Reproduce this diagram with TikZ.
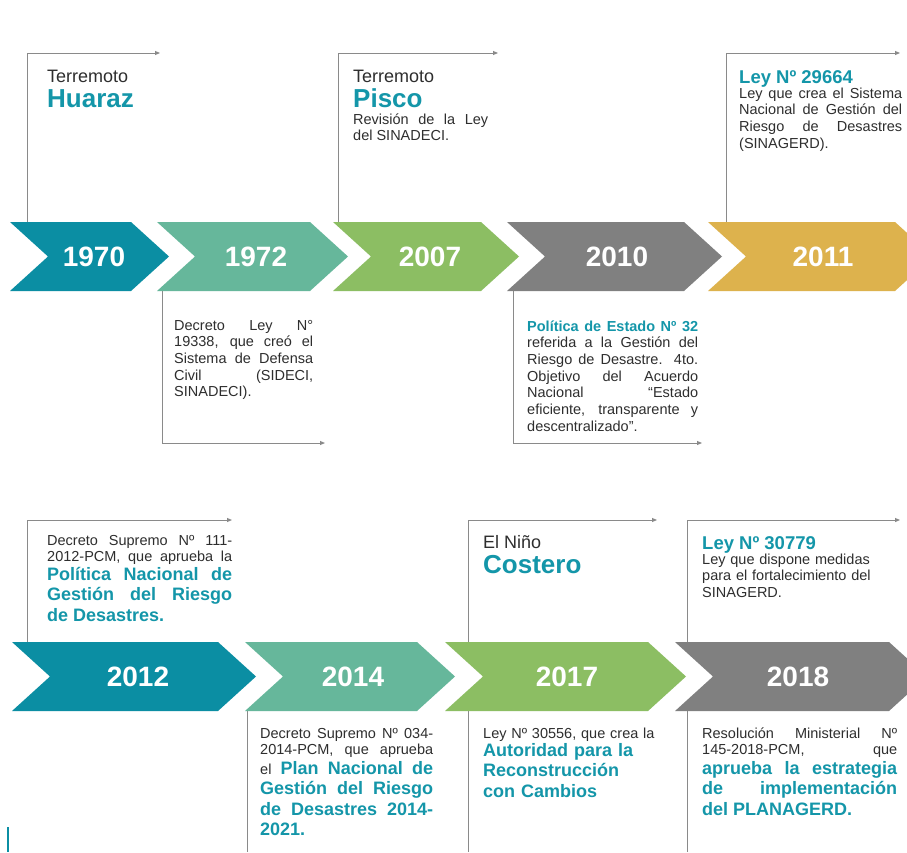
\documentclass[tikz,border=0pt]{standalone}
\usepackage{fontspec}
\setmainfont{Liberation Sans}
\usetikzlibrary{arrows.meta,positioning}
\definecolor{cTeal}{HTML}{0B8EA3}
\definecolor{cMint}{HTML}{66B79B}
\definecolor{cGreen}{HTML}{8CBE63}
\definecolor{cGray}{HTML}{808080}
\definecolor{cGold}{HTML}{DDB24D}
\definecolor{cLine}{HTML}{8A8A8A}
\definecolor{cText}{HTML}{2E2E2E}
\definecolor{cHigh}{HTML}{1496A9}

\begin{document}
\begin{tikzpicture}[x=1pt,y=-1pt]
\tikzset{bracket/.style = {draw=cLine, line width=0.9pt},
  arrowed/.style = {bracket, -{Triangle[length=5pt,width=4pt]}},
  yearlbl/.style = {text=white, font=\bfseries\fontsize{28}{28}\selectfont, inner sep=0pt},
  bodytxt/.style = {anchor=base west, inner sep=0pt, text=cText, align=justify, font=\fontsize{14.5}{16.7}\selectfont},
  hltxt/.style = {bodytxt, text=cHigh, font=\bfseries\fontsize{18}{20.6}\selectfont},
  headtxt/.style = {anchor=base west, inner sep=0pt, text=cText, font=\fontsize{18}{18}\selectfont},
  bigtxt/.style = {anchor=base west, inner sep=0pt, text=cHigh, font=\bfseries\fontsize{26}{26}\selectfont},
  lawtxt/.style = {anchor=base west, inner sep=0pt, text=cHigh, font=\bfseries\fontsize{18.5}{18.5}\selectfont}}
\def\chevtip{38}
\def\chevh{69}
\def\fullline#1#2{\makebox[#1][s]{#2}}
\path[use as bounding box, fill=white] (0,0) rectangle (907,852);
\clip (0,0) rectangle (907,852);

% brackets above the arrows
\foreach \yr/\xs/\ys/\xe/\ye in {1970/27/222/160/53, 2007/338/222/498/53, 2011/726/222/900/53,
    2012/27/642/232/520, 2017/468/642/657/520, 2018/687/642/900/520}{
  \coordinate (up\yr) at (\xs,\ys);
  \coordinate (upend\yr) at (\xe,\ye);
  \draw[arrowed] (up\yr) |- (upend\yr);
}
% brackets below
\foreach \yr/\xs/\ys/\xe/\ye in {1972/162/291/325/443, 2010/513/291/702/443}{
  \coordinate (dn\yr) at (\xs,\ys);
  \coordinate (dnend\yr) at (\xe,\ye);
  \draw[arrowed] (dn\yr) |- (dnend\yr);
}
\foreach \yr/\xs in {2014/247, 2017/468, 2018/687}{
  \coordinate (dn\yr) at (\xs,711);
  \coordinate (dnend\yr) at (\xs,852);
  \draw[bracket] (dn\yr) -- (dnend\yr);
}
\draw[cTeal, line width=1.6pt] (8,827) -- (8,852);

% chevrons
\foreach \xa/\xb/\yt/\col/\yr/\xc in {10/131/222/cTeal/1970/94, 157/310/222/cMint/1972/256,
    333/481/222/cGreen/2007/430, 507/684/222/cGray/2010/617, 708/895/222/cGold/2011/823,
    12/218/642/cTeal/2012/138, 245/417/642/cMint/2014/353, 445/648/642/cGreen/2017/567,
    675/889/642/cGray/2018/798}{
  \fill[\col] (\xa,\yt) -- (\xb,\yt) -- (\xb+\chevtip,\yt+\chevh/2) -- (\xb,\yt+\chevh)
    -- (\xa,\yt+\chevh) -- (\xa+\chevtip,\yt+\chevh/2) -- cycle;
  \node[yearlbl] (y\yr) at (\xc,\yt+\chevh/2) {\yr};
}

% top row texts
\node[headtxt] (h1970) at (47,82) {Terremoto};
\node[bigtxt] (n1970) at (47,107) {Huaraz};
\node[headtxt] (h2007) at (353,82) {Terremoto};
\node[bigtxt] (n2007) at (353,107) {Pisco};
\node[bodytxt, text width=135pt] (t2007) at (353,124) {Revisión de la Ley\linebreak del SINADECI.};
\node[lawtxt] (l2011) at (739,83) {Ley Nº 29664};
\node[bodytxt, text width=163pt] (t2011) at (739,98) {Ley que crea el Sistema\linebreak Nacional de Gestión del\linebreak Riesgo de Desastres\linebreak (SINAGERD).};
\node[bodytxt, text width=139pt] (t1972) at (174,330) {Decreto Ley N°\linebreak 19338, que creó el\linebreak Sistema de Defensa\linebreak Civil (SIDECI,\linebreak SINADECI).};
\node[bodytxt, text width=171pt] (t2010) at (527,331) {{\color{cHigh}\bfseries Política de Estado Nº 32}\linebreak referida a la Gestión del\linebreak Riesgo de Desastre. 4to.\linebreak Objetivo del Acuerdo\linebreak Nacional “Estado\linebreak eficiente, transparente y\linebreak descentralizado”.};

% bottom row texts
\node[bodytxt, text width=185pt] (t2012) at (47,545) {Decreto Supremo Nº 111-\linebreak \fullline{185pt}{2012-PCM, que aprueba la}};
\node[hltxt, text width=185pt] (p2012) at (47,580) {Política Nacional de\linebreak Gestión del Riesgo\linebreak de Desastres.};
\node[headtxt] (h2017) at (483,548) {El Niño};
\node[bigtxt] (n2017) at (483,573) {Costero};
\node[lawtxt] (l2018) at (702,549) {Ley Nº 30779};
\node[bodytxt, align=left, text width=195pt] (t2018) at (702,564) {Ley que dispone medidas\\para el fortalecimiento del\\SINAGERD.};
\node[bodytxt, text width=173pt] (t2014) at (260,738) {Decreto Supremo Nº 034-\linebreak \fullline{173pt}{2014-PCM, que aprueba}};
\node[hltxt, text width=173pt] (p2014) at (260,774) {{\mdseries\color{cText}\fontsize{14.5}{16.7}\selectfont el} Plan Nacional de\linebreak Gestión del Riesgo\linebreak de Desastres 2014-\linebreak 2021.};
\node[bodytxt, align=left, text width=180pt] (t2017) at (483,738) {Ley Nº 30556, que crea la};
\node[hltxt, align=left, text width=180pt] (p2017) at (483,756) {Autoridad para la\\Reconstrucción\\con Cambios};
\node[bodytxt, text width=195pt] (t2018b) at (702,738) {Resolución Ministerial Nº\linebreak \fullline{195pt}{145-2018-PCM, que}};
\node[hltxt, text width=195pt] (p2018) at (702,774) {aprueba la estrategia\linebreak de implementación\linebreak del PLANAGERD.};
\end{tikzpicture}
\end{document}
